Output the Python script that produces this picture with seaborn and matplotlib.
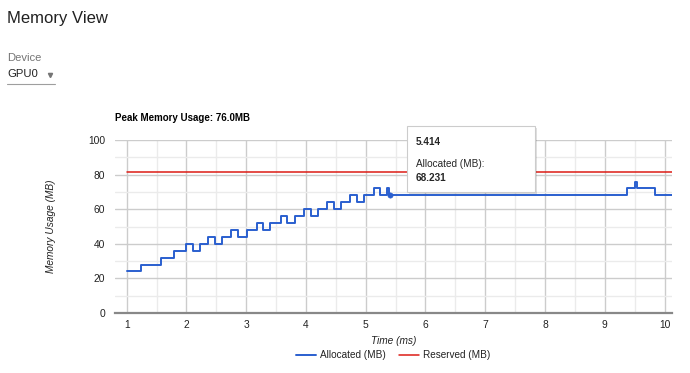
import matplotlib
matplotlib.use("Agg")
import matplotlib.pyplot as plt
from matplotlib.patches import FancyBboxPatch
import seaborn as sns
import pandas as pd

# ---- data ----
alloc_time = [1.0, 1.244, 1.568, 1.80, 1.997, 2.114, 2.22, 2.365, 2.477, 2.594,
              2.75, 2.87, 3.007, 3.174, 3.284, 3.40, 3.59, 3.69, 3.81, 3.96,
              4.087, 4.204, 4.36, 4.47, 4.58, 4.73, 4.846, 4.97, 5.135, 5.236,
              5.36, 5.386, 9.378, 9.505, 9.54, 9.84, 10.12]
alloc_mb = [24, 28, 32, 36, 40, 36, 40, 44, 40, 44,
            48, 44, 48, 52, 48, 52, 56, 52, 56, 60,
            56, 60, 64, 60, 64, 68, 64, 68, 72, 68,
            72, 68.231, 72, 76, 72, 68.231, 68.231]
reserved_time = [1.0, 10.12]
reserved_mb = [81.7, 81.7]
hover_time = [5.414]
hover_mb = [68.231]
x_ticks = [1, 2, 3, 4, 5, 6, 7, 8, 9, 10]
y_ticks = [0, 20, 40, 60, 80, 100]
peak_label = "Peak Memory Usage: 76.0MB"

sns.set_theme(style="white")
plt.rcParams['font.family'] = ['Liberation Sans', 'DejaVu Sans']

W, H = 690, 373
fig = plt.figure(figsize=(W / 100, H / 100), dpi=100)

def px(x, y):
    return (x / W, 1 - y / H)

ax = fig.add_axes([115 / W, 1 - 313 / H, (671.7 - 115) / W, (313 - 140) / H])

df_alloc = pd.DataFrame({"Time (ms)": alloc_time, "MB": alloc_mb})
df_res = pd.DataFrame({"Time (ms)": reserved_time, "MB": reserved_mb})

BLUE = "#2a5fcf"
RED = "#dc1c16"

sns.lineplot(data=df_res, x="Time (ms)", y="MB", ax=ax, color=RED, lw=1.1,
             label="Reserved (MB)", zorder=3)
sns.lineplot(data=df_alloc, x="Time (ms)", y="MB", ax=ax, color=BLUE, lw=1.4,
             drawstyle="steps-post", label="Allocated (MB)", zorder=4)
sns.scatterplot(x=hover_time, y=hover_mb, ax=ax, color=BLUE, s=15,
                edgecolor=BLUE, zorder=5)

ax.set_xlim(0.805, 10.12)
ax.set_ylim(0, 100)
ax.set_xticks(x_ticks)
ax.set_yticks(y_ticks)
ax.set_xticks([1.5 + i for i in range(9)], minor=True)
ax.set_yticks([10, 30, 50, 70, 90], minor=True)
ax.grid(True, which="major", color="#cccccc", lw=1.0)
ax.grid(True, which="minor", color="#ebebeb", lw=1.0)
ax.set_axisbelow(True)
for s in ["top", "right", "left"]:
    ax.spines[s].set_visible(False)
ax.spines["bottom"].set_color("#888888")
ax.spines["bottom"].set_linewidth(1.6)
ax.tick_params(axis="y", length=0, labelsize=7.4, colors="#222222", pad=7)
ax.tick_params(axis="x", length=0, labelsize=7.4, colors="#222222", pad=5)
ax.set_xlabel("Time (ms)", fontsize=7.3, style="italic", color="#222222", labelpad=4)
ax.set_ylabel("Memory Usage (MB)", fontsize=7.3, style="italic", color="#222222", labelpad=23)
ax.get_legend().remove()

# legend
handles, labels = ax.get_legend_handles_labels()
order = [labels.index("Allocated (MB)"), labels.index("Reserved (MB)")]
fig.legend([handles[i] for i in order], [labels[i] for i in order],
           loc="center", bbox_to_anchor=px(393, 355.5), ncol=2, frameon=False,
           fontsize=7.2, handlelength=2.0, handletextpad=0.45, columnspacing=1.3,
           labelcolor="#222222")

# header texts
fig.text(*px(7, 19), "Memory View", fontsize=12.0, color="#212121", va="center")
fig.text(*px(7, 58), "Device", fontsize=8.1, color="#757575", va="center")
fig.text(*px(7, 74), "GPU0", fontsize=8.1, color="#212121", va="center")
fig.add_artist(plt.Line2D([49.5 / W], [1 - 74.5 / H], marker="v", markersize=3.0,
                          color="#757575", lw=0, transform=fig.transFigure))
fig.add_artist(plt.Line2D([7 / W, 55 / W], [1 - 84 / H, 1 - 84 / H],
                          color="#9e9e9e", lw=0.8, transform=fig.transFigure))
fig.text(*px(115, 118), peak_label, fontsize=7.05, fontweight="bold",
         color="#000000", va="center")

# tooltip
x0, y0, x1, y1 = 407, 126, 535, 192
shadow = FancyBboxPatch(px(x0 + 1.5, y1 + 1.5), (x1 - x0) / W, (y1 - y0) / H,
                        boxstyle="square,pad=0", transform=fig.transFigure,
                        facecolor="#000000", alpha=0.12, edgecolor="none", zorder=9)
box = FancyBboxPatch(px(x0, y1), (x1 - x0) / W, (y1 - y0) / H,
                     boxstyle="square,pad=0", transform=fig.transFigure,
                     facecolor="white", edgecolor="#cccccc", lw=0.8, zorder=10)
fig.add_artist(shadow)
fig.add_artist(box)
fig.text(*px(416, 142), f"{hover_time[0]:.3f}", fontsize=7.2, fontweight="bold",
         va="center", zorder=11)
fig.text(*px(416, 164), "Allocated (MB):", fontsize=7.2, va="center", zorder=11)
fig.text(*px(416, 178), f"{hover_mb[0]:.3f}", fontsize=7.2, fontweight="bold",
         va="center", zorder=11)

fig.savefig("out.png", dpi=100)
